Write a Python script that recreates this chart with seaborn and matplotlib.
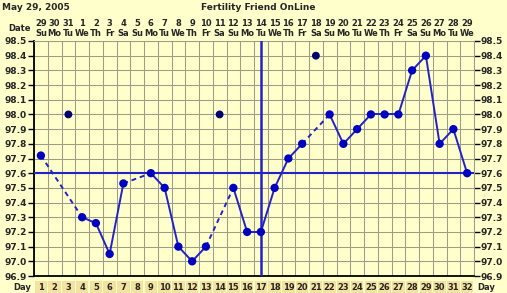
import numpy as np
import pandas as pd
import matplotlib
matplotlib.use("Agg")
import matplotlib.pyplot as plt
import seaborn as sns
from matplotlib.transforms import blended_transform_factory
from matplotlib.patches import Rectangle

# ---------------- data ----------------
days = list(range(1, 33))
dates = [29, 30, 31] + list(range(1, 30))
weekdays = (["Su", "Mo", "Tu", "We", "Th", "Fr", "Sa"] * 5)[:32]
temps = [97.72, None, None, 97.30, 97.26, 97.05, 97.53, None, 97.60, 97.50,
         97.10, 97.00, 97.10, None, 97.50, 97.20, 97.20, 97.50, 97.70, 97.80,
         None, 98.00, 97.80, 97.90, 98.00, 98.00, 98.00, 98.30, 98.40, 97.80,
         97.90, 97.60]
outlier_days = [3, 14, 21]
outlier_temps = [98.0, 98.0, 98.4]
coverline = 97.6
ovulation_day = 17
y_ticks = [96.9, 97.0, 97.1, 97.2, 97.3, 97.4, 97.5, 97.6, 97.7, 97.8,
           97.9, 98.0, 98.1, 98.2, 98.3, 98.4, 98.5]
chart_date = "May 29, 2005"
chart_title = "Fertility Friend OnLine"

# ---------------- style ----------------
BG = "#FFFFCC"
GRID = "#9c9c88"
LINE = "#2222C8"
DOT = "#0000C0"
OUT = "#000070"
CELL = "#F3E3A0"

sns.set_theme(style="white")
plt.rcParams["font.family"] = ["DejaVu Sans"]
plt.rcParams["font.weight"] = "bold"

W, H = 507, 293
fig = plt.figure(figsize=(W / 100, H / 100), dpi=100, facecolor=BG)
x0, x1, yt, yb = 34, 474, 41, 276
ax = fig.add_axes([x0 / W, 1 - yb / H, (x1 - x0) / W, (yb - yt) / H])
ax.set_facecolor(BG)

# gridlines
ax.set_xlim(0.5, 32.5)
ax.set_ylim(96.9, 98.5)
ax.set_xticks(np.arange(0.5, 33, 1))
ax.set_xticklabels([])
ax.set_yticks(y_ticks)
ax.set_yticklabels([f"{v:.1f}" for v in y_ticks])
ax.grid(True, color=GRID, lw=0.75)
ax.tick_params(axis="x", length=0)
ax.tick_params(axis="y", length=4, width=1, color="black", left=True, right=True,
               labelleft=True, labelright=True, labelsize=6.5, pad=1)
for lab in ax.get_yticklabels():
    lab.set_fontweight("bold")
for s in ["left", "bottom"]:
    ax.spines[s].set_color("black")
    ax.spines[s].set_linewidth(1.3)
for s in ["top", "right"]:
    ax.spines[s].set_color(GRID)
    ax.spines[s].set_linewidth(0.75)

# coverline and ovulation line
ax.axhline(coverline, color=LINE, lw=1.5, zorder=3)
ax.axvline(ovulation_day, color=LINE, lw=1.8, zorder=3)

# temperature line segments (solid for consecutive days, dashed across gaps)
recs = [(d, t) for d, t in zip(days, temps) if t is not None]
rows = []
for i, ((d0, t0), (d1, t1)) in enumerate(zip(recs[:-1], recs[1:])):
    kind = "solid" if d1 - d0 == 1 else "gap"
    rows.append(dict(seg=i, day=d0, temp=t0, kind=kind))
    rows.append(dict(seg=i, day=d1, temp=t1, kind=kind))
seg_df = pd.DataFrame(rows)
sns.lineplot(data=seg_df, x="day", y="temp", units="seg", estimator=None,
             style="kind", dashes={"solid": "", "gap": (2.5, 2)},
             color=LINE, lw=1.4, legend=False, sort=False, ax=ax, zorder=4)

pts = pd.DataFrame(recs, columns=["day", "temp"])
sns.scatterplot(data=pts, x="day", y="temp", s=36, color=DOT, edgecolor="none",
                ax=ax, zorder=5, legend=False)
sns.scatterplot(x=outlier_days, y=outlier_temps, s=32, color=OUT, edgecolor="none",
                ax=ax, zorder=5, legend=False)
ax.set_xlabel("")
ax.set_ylabel("")

# header texts
fs = 6.5
fig.text(2 / W, 1 - 7 / H, chart_date, fontsize=fs, fontweight="bold", va="center", ha="left")
fig.text(258 / W, 1 - 7 / H, chart_title, fontsize=fs, fontweight="bold", va="center", ha="center")

tr = blended_transform_factory(ax.transData, fig.transFigure)
for d, dt, wd in zip(days, dates, weekdays):
    fig.text(d, 1 - 23.5 / H, str(dt), transform=tr, fontsize=6, fontweight="bold",
             ha="center", va="center")
    fig.text(d, 1 - 33 / H, wd, transform=tr, fontsize=6, fontweight="bold",
             ha="center", va="center")
fig.text(31 / W, 1 - 28.5 / H, "Date", fontsize=6, fontweight="bold", ha="right", va="center")

# bottom "Day" row
for d in days:
    fig.patches.append(Rectangle((d - 0.5 + 0.04, 0), 0.92, 12 / H, transform=tr,
                                 facecolor=CELL, edgecolor="none", zorder=0))
    fig.text(d, 1 - 287 / H, str(d), transform=tr, fontsize=6, fontweight="bold",
             ha="center", va="center")
fig.text(31 / W, 1 - 287 / H, "Day", fontsize=6, fontweight="bold", ha="right", va="center")
fig.text(477 / W, 1 - 287 / H, "Day", fontsize=6, fontweight="bold", ha="left", va="center")

fig.savefig("out.png", dpi=100, facecolor=BG)
